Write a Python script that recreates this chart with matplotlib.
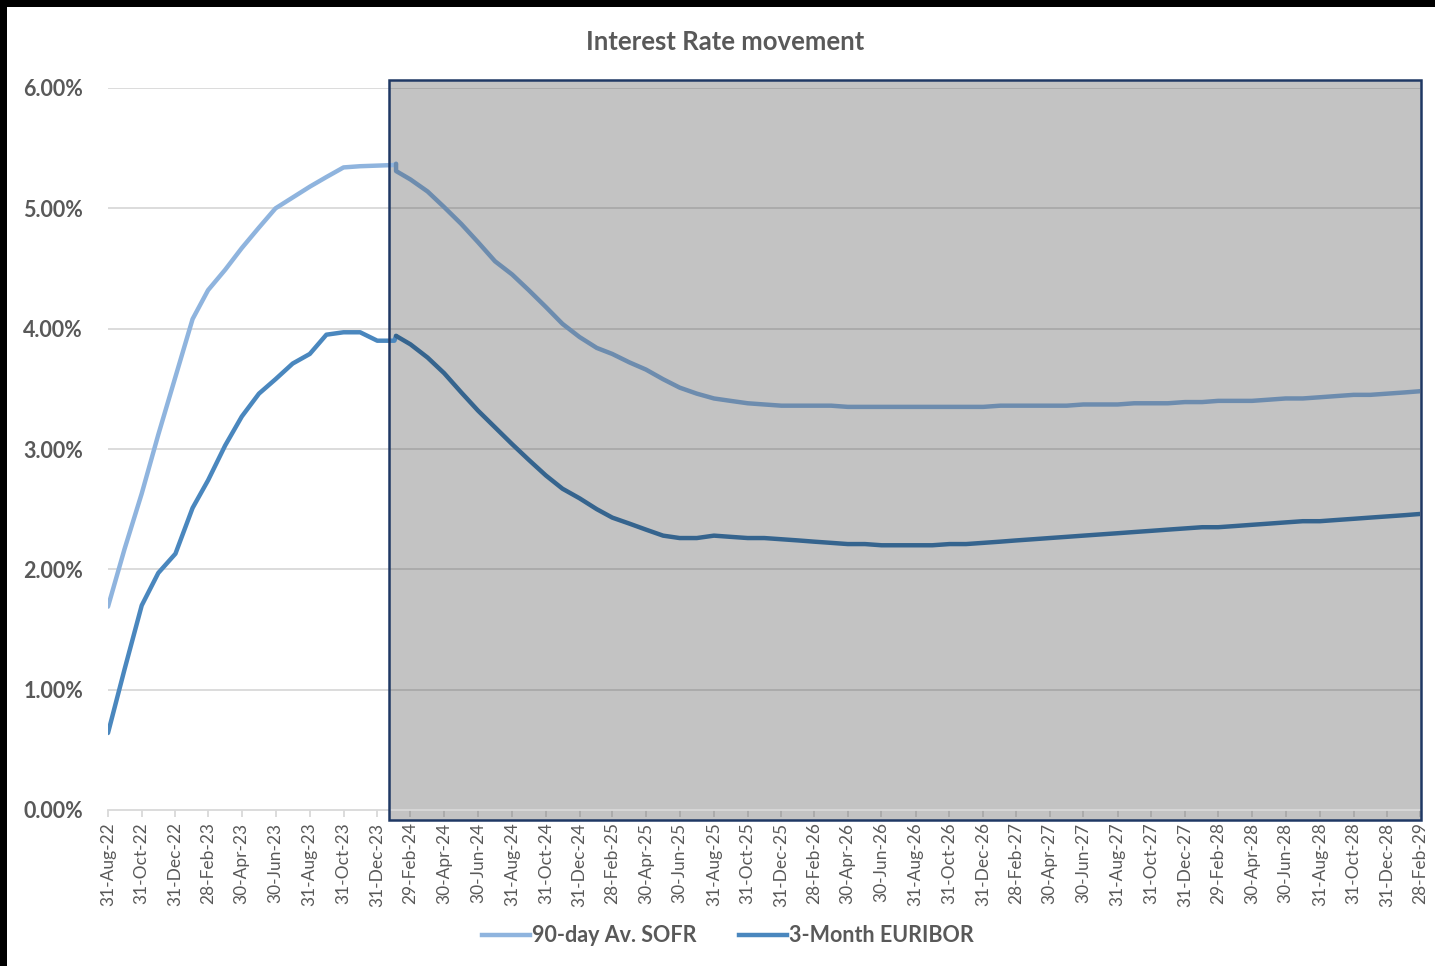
import numpy as np
import pandas as pd
import matplotlib
matplotlib.use("Agg")
import matplotlib.pyplot as plt
import matplotlib.dates as mdates
from matplotlib.patches import Rectangle
from matplotlib.lines import Line2D

plt.rcParams['font.family'] = ['Lato', 'DejaVu Sans']

# realised monthly fixings, 31-Aug-22 .. 31-Jan-24
hist_dates = pd.date_range('2022-08-31', '2024-01-31', freq='ME')
hist_sofr = [1.69, 2.17, 2.63, 3.12, 3.60, 4.08, 4.32, 4.49, 4.67, 4.84, 5.00, 5.09,
             5.18, 5.26, 5.34, 5.35, 5.355, 5.36]
hist_euribor = [0.64, 1.17, 1.70, 1.97, 2.13, 2.51, 2.74, 3.03, 3.27, 3.46, 3.58, 3.71,
                3.79, 3.95, 3.97, 3.97, 3.90, 3.90]

# spot date where the forward curve starts
spot_date = pd.Timestamp('2024-02-03')
spot_sofr_hist, spot_sofr_fwd = 5.37, 5.31
spot_euribor = 3.94

# forward curve, 29-Feb-24 .. 28-Feb-29
fwd_dates = pd.date_range('2024-02-29', '2029-02-28', freq='ME')
fwd_sofr = [5.24, 5.14, 5.01, 4.87, 4.72, 4.56, 4.45, 4.32, 4.18, 4.04, 3.93,
            3.84, 3.79, 3.72, 3.66, 3.58, 3.51, 3.46, 3.42, 3.40, 3.38, 3.37, 3.36,
            3.36, 3.36, 3.36, 3.35, 3.35, 3.35, 3.35, 3.35, 3.35, 3.35, 3.35, 3.35,
            3.36, 3.36, 3.36, 3.36, 3.36, 3.37, 3.37, 3.37, 3.38, 3.38, 3.38, 3.39,
            3.39, 3.40, 3.40, 3.40, 3.41, 3.42, 3.42, 3.43, 3.44, 3.45, 3.45, 3.46,
            3.47, 3.48]
fwd_euribor = [3.87, 3.76, 3.63, 3.47, 3.32, 3.18, 3.04, 2.91, 2.78, 2.67, 2.59,
               2.50, 2.43, 2.38, 2.33, 2.28, 2.26, 2.26, 2.28, 2.27, 2.26, 2.26, 2.25,
               2.24, 2.23, 2.22, 2.21, 2.21, 2.20, 2.20, 2.20, 2.20, 2.21, 2.21, 2.22,
               2.23, 2.24, 2.25, 2.26, 2.27, 2.28, 2.29, 2.30, 2.31, 2.32, 2.33, 2.34,
               2.35, 2.35, 2.36, 2.37, 2.38, 2.39, 2.40, 2.40, 2.41, 2.42, 2.43, 2.44,
               2.45, 2.46]

tick_dates = pd.date_range('2022-08-31', '2029-02-28', freq='2ME')
yticks = [0, 1, 2, 3, 4, 5, 6]

c_sofr = '#8FB4DE'
c_eur = '#4A87BE'
c_sofr_fwd = '#6D8CAE'
c_eur_fwd = '#35648E'
grey_txt = '#595959'

fig = plt.figure(figsize=(14.35, 9.66), dpi=100)
ax = fig.add_axes([108 / 1435, 1 - 810 / 966, 1312 / 1435, 722 / 966])

ax.set_xlim(hist_dates[0], fwd_dates[-1])
ax.set_ylim(0, 6)

for y in yticks[1:]:
    ax.axhline(y, color='#D9D9D9', lw=1.3, zorder=1)

# forecast window
x0 = mdates.date2num(pd.Timestamp('2024-01-21'))
x1 = mdates.date2num(fwd_dates[-1]) + 1.5
ax.add_patch(Rectangle((x0, -0.085), x1 - x0, 6.155, facecolor='#4F4F4F', alpha=0.34,
                       edgecolor='none', clip_on=False, zorder=2))
ax.add_patch(Rectangle((x0, -0.085), x1 - x0, 6.155, facecolor='none',
                       edgecolor='#1F3864', lw=1.8, clip_on=False, zorder=5))

kw = dict(lw=3.2, zorder=3, solid_joinstyle='round', solid_capstyle='round')
hd = list(hist_dates) + [spot_date]
ax.plot(hd, hist_sofr + [spot_sofr_hist], color=c_sofr, **kw)
ax.plot(hd, hist_euribor + [spot_euribor], color=c_eur, **kw)
fd = [spot_date] + list(fwd_dates)
ax.plot([spot_date] + fd, [spot_sofr_hist, spot_sofr_fwd] + fwd_sofr, color=c_sofr_fwd, **kw)
ax.plot(fd, [spot_euribor] + fwd_euribor, color=c_eur_fwd, **kw)

for s in ['top', 'right', 'left']:
    ax.spines[s].set_visible(False)
ax.spines['bottom'].set_color('#D9D9D9')
ax.spines['bottom'].set_linewidth(1.3)

ax.set_yticks(yticks)
ax.set_yticklabels([f'{v:.2f}%' for v in yticks], fontsize=15.5, fontweight='bold',
                   color=grey_txt)
ax.tick_params(axis='y', length=0, pad=18)

ax.set_xticks(tick_dates)
ax.set_xticklabels([d.strftime('%d-%b-%y') for d in tick_dates], rotation=90,
                   fontsize=12.5, color=grey_txt)
ax.tick_params(axis='x', length=5, color='#D9D9D9', width=1.3, pad=4)

fig.text(725 / 1435, 1 - 42 / 966, 'Interest Rate movement', ha='center', va='center',
         fontsize=18.5, fontweight='bold', color=grey_txt)

handles = [Line2D([], [], color=c_sofr, lw=3.2), Line2D([], [], color=c_eur, lw=3.2)]
fig.legend(handles, ['90-day Av. SOFR', '3-Month EURIBOR'], loc='center',
           bbox_to_anchor=(728 / 1435, 1 - 936 / 966), ncol=2, frameon=False,
           prop={'size': 15.5, 'weight': 'bold'}, labelcolor=grey_txt,
           handlelength=2.2, handletextpad=0.1, columnspacing=2.0)

# black frame strips along left and top edge
fig.add_artist(Rectangle((0, 0), 7 / 1435, 1, transform=fig.transFigure,
                         facecolor='black', edgecolor='none'))
fig.add_artist(Rectangle((0, 1 - 7 / 966), 1, 7 / 966, transform=fig.transFigure,
                         facecolor='black', edgecolor='none'))

fig.savefig('out.png', dpi=100)
